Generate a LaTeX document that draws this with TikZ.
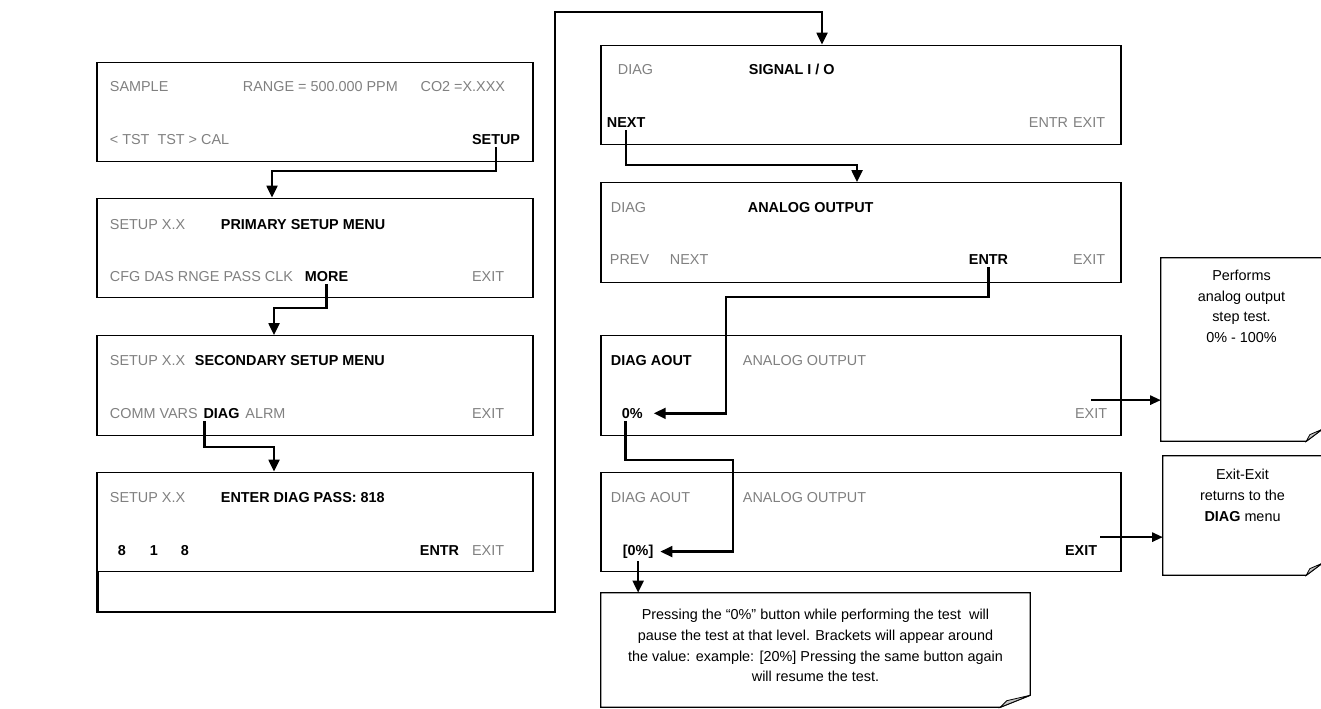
\documentclass[tikz,border=0pt]{standalone}
\usepackage{fontspec}
\setmainfont{Liberation Sans}
\usetikzlibrary{arrows.meta}

\definecolor{lcdgrey}{gray}{0.5}
\newcommand\lcd{\fontsize{10.8}{15.5}\selectfont}
% outline of a note with a turned-up corner
\newcommand\dogear[3]{%
  \draw[line width=0.9pt] (#1.north west) -- (#1.north east) -- ([yshift=#3]#1.south east)
    -- ([xshift=-#2]#1.south east) -- (#1.south west) -- cycle;
  \filldraw[fill=gray!45,line width=0.6pt] ([yshift=#3]#1.south east)
    -- ([xshift=-0.78*#2,yshift=0.55*#3]#1.south east) -- ([xshift=-#2]#1.south east) -- cycle;
}

\begin{document}
\begin{tikzpicture}[x=0.75pt,y=-0.75pt,
  screen/.style={draw,line width=0.9pt,minimum width=327pt,minimum height=74.5pt,inner sep=0pt},
  wide/.style={screen,minimum width=390pt},
  note/.style={minimum width=#1,inner sep=0pt},
  dim/.style={text=lcdgrey,anchor=base west,inner sep=2pt,font=\lcd},
  key/.style={anchor=base west,inner sep=2pt,font=\lcd\bfseries},
  txt/.style={anchor=north,align=center,inner sep=2pt,font=\lcd},
  arr/.style={-{Triangle[length=9pt,width=8pt]},line width=2pt},
  arrthin/.style={-{Triangle[length=8pt,width=7pt]},line width=1.4pt}
]
  \useasboundingbox (0,0) rectangle (1321,709);

  % left column
  \node[screen] (scrSample) at (315,112) {};
  \node[dim] (tSample) at (107,91.8) {SAMPLE};
  \node[dim] (tRange) at (240,91.8) {RANGE = 500.000 PPM};
  \node[dim,anchor=base east] (tCo) at (508,91.8) {CO2 =X.XXX};
  \node[dim] (tTst) at (107,144.3) {< TST\ \ TST > CAL};
  \node[key,anchor=base east] (kSetup) at (523,144.3) {SETUP};

  \node[screen] (scrPrimary) at (315,248) {};
  \node[dim] (tSetupA) at (107,229.8) {SETUP X.X};
  \node[key] (tPrimary) at (218,229.8) {PRIMARY SETUP MENU};
  \node[dim] (tCfg) at (107,281.3) {CFG DAS RNGE PASS CLK};
  \node[key] (kMore) at (302,281.3) {MORE};
  \node[dim,anchor=base east] (tExitA) at (507,281.3) {EXIT};

  \node[screen] (scrSecondary) at (315,385.5) {};
  \node[dim] (tSetupB) at (107,365.8) {SETUP X.X};
  \node[key] (tSecondary) at (192,365.8) {SECONDARY SETUP MENU};
  \node[dim] (tComm) at (107,418.3) {COMM VARS};
  \node[key] (kDiag) at (tComm.base east) {DIAG};
  \node[dim] (tAlrm) at (kDiag.base east) {ALRM};
  \node[dim,anchor=base east] (tExitB) at (507,418.3) {EXIT};

  \node[screen] (scrPass) at (315,522) {};
  \node[dim] (tSetupC) at (107,502.8) {SETUP X.X};
  \node[key] (tPass) at (218,502.8) {ENTER DIAG PASS: 818};
  \node[key] (tDigitA) at (115,555.3) {8};
  \node[key] (tDigitB) at (147,555.3) {1};
  \node[key] (tDigitC) at (178,555.3) {8};
  \node[key] (tEntrA) at (417,555.3) {ENTR};
  \node[dim,anchor=base east] (tExitC) at (507,555.3) {EXIT};

  % right column
  \node[screen,wide] (scrSignal) at (861,95) {};
  \node[dim] (tDiagA) at (615,74.8) {DIAG};
  \node[key] (tSignal) at (746,74.8) {SIGNAL I / O};
  \node[key] (kNext) at (604,127.3) {NEXT};
  \node[dim] (tEntrB) at (1026,127.3) {ENTR};
  \node[dim,anchor=base east] (tExitD) at (1108,127.3) {EXIT};

  \node[screen,wide] (scrAnalog) at (861,232.5) {};
  \node[dim] (tDiagB) at (608,212.8) {DIAG};
  \node[key] (tAnalog) at (745,212.8) {ANALOG OUTPUT};
  \node[dim] (tPrev) at (607,264.3) {PREV};
  \node[dim] (tNextB) at (667,264.3) {NEXT};
  \node[key] (kEntr) at (966,264.3) {ENTR};
  \node[dim,anchor=base east] (tExitE) at (1108,264.3) {EXIT};

  \node[screen,wide] (scrAout) at (861,385.5) {};
  \node[key] (tAoutA) at (608,365.8) {DIAG AOUT};
  \node[dim] (tAnalogB) at (740,365.8) {ANALOG OUTPUT};
  \node[key] (kZero) at (619,418.3) {0\%};
  \node[dim,anchor=base east] (kExitA) at (1110,418.3) {EXIT};

  \node[screen,wide] (scrHold) at (861,522) {};
  \node[dim] (tAoutB) at (608,502.8) {DIAG AOUT};
  \node[dim] (tAnalogC) at (740,502.8) {ANALOG OUTPUT};
  \node[key] (kHold) at (620,555.3) {[0\%]};
  \node[key,anchor=base east] (kExitB) at (1100,555.3) {EXIT};

  % notes
  \node[note=120.75pt,minimum height=137.25pt] (noteStep) at (1241.5,349.5) {};
  \dogear{noteStep}{12pt}{9pt}
  \node[txt] (tStep) at (1241.5,267) {Performs\\analog output\\step test.\\0\% - 100\%};

  \node[note=119.25pt,minimum height=89.25pt] (noteExit) at (1242.5,515.5) {};
  \dogear{noteExit}{12pt}{9pt}
  \node[txt] (tExit) at (1242.5,466.5) {Exit-Exit\\returns to the\\\textbf{DIAG} menu};

  \node[note=321.75pt,minimum height=85.5pt] (noteHold) at (815.5,650) {};
  \dogear{noteHold}{22.5pt}{9pt}
  \node[txt] (tHold) at (815.5,606.5) {Pressing the ``0\%'' button while performing the test\ \ will\\
    pause the test at that level. Brackets will appear around\\
    the value: example: [20\%] Pressing the same button again\\
    will resume the test.};

  % connectors
  \draw[arr] (kSetup.south) |- (272,171) -- (272,171 |- scrPrimary.north);
  \draw[arr] (kMore.south) |- (274,308) -- (274,308 |- scrSecondary.north);
  \draw[arr] ([xshift=3pt]kDiag.south west) |- (274,447) -- (274,447 |- scrPass.north);
  \draw[arr] ([xshift=1pt]scrPass.south west) |- (555,612) |- (822,12) -- (822,12 |- scrSignal.north);
  \draw[arr] (kNext.south) |- (857,165) -- (857,165 |- scrAnalog.north);
  \draw[arr,shorten >=6pt] (kEntr.south) |- (726,297) |- (kZero.east);
  \draw[arr,shorten >=3pt] ([xshift=-5pt]kZero.south) |- (733,460) |- (kHold.east);
  \draw[arr] (kHold.south) -- (kHold.south |- noteHold.north);
  \draw[arrthin] ([yshift=4pt]kExitA.north) -- ([yshift=4pt]kExitA.north -| noteStep.west);
  \draw[arrthin] ([yshift=4pt]kExitB.north east) -- ([yshift=4pt]kExitB.north east -| noteExit.west);
\end{tikzpicture}
\end{document}
